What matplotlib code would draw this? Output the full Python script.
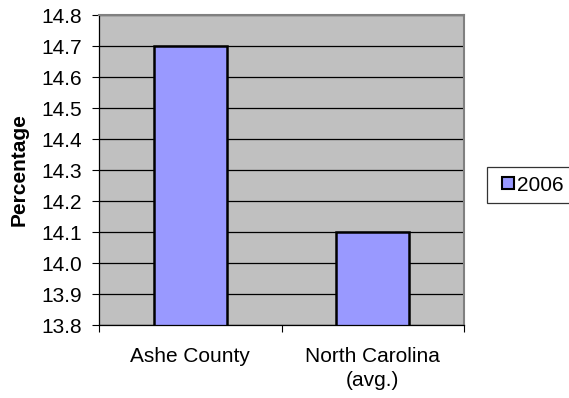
import matplotlib.pyplot as plt
import numpy as np
from matplotlib.patches import Rectangle
from matplotlib.container import BarContainer
from matplotlib.legend_handler import HandlerPatch

plt.rcParams['font.family'] = ['Liberation Sans', 'DejaVu Sans']

# data
categories = ['Ashe County', 'North Carolina\n(avg.)']
values_2006 = [14.7, 14.1]
series_name = '2006'
yticks = [13.8, 13.9, 14.0, 14.1, 14.2, 14.3, 14.4, 14.5, 14.6, 14.7, 14.8]

fs = 15


def square_handle(legend, orig_handle, xdescent, ydescent, width, height, fontsize):
    s = 0.56 * fontsize
    return Rectangle((-xdescent + width - s, -ydescent + (height - s) / 2), s, s)


def first_child(legend_handle, orig_handle):
    legend_handle.update_from(orig_handle[0])
    legend_handle.set_linewidth(1.5)


fig = plt.figure(figsize=(5.69, 3.98), dpi=100)
ax = fig.add_axes([0.1740, 0.1834, 0.6415, 0.7789])
ax.set_facecolor('#C0C0C0')

x = np.arange(len(categories))
ax.set_axisbelow(True)
ax.yaxis.grid(True, color='black', linewidth=0.9)
ax.bar(x, values_2006, width=0.4, bottom=0, color='#9999FF',
       edgecolor='black', linewidth=1.8, label=series_name)

ax.set_xlim(-0.5, len(categories) - 0.5)
ax.set_ylim(13.8, 14.8)
ax.set_yticks(yticks)
ax.set_yticklabels(['%.1f' % t for t in yticks], fontsize=fs)

# category labels between boundary ticks
ax.set_xticks(np.arange(len(categories) + 1) - 0.5)
ax.set_xticklabels([])
ax.set_xticks(x, minor=True)
ax.set_xticklabels(categories, minor=True, fontsize=fs, linespacing=1.3)
ax.tick_params(axis='x', which='minor', length=0, pad=16)
ax.tick_params(axis='x', which='major', length=5, direction='out')
ax.tick_params(axis='y', length=5, direction='out', pad=7)

for side in ['top', 'right']:
    ax.spines[side].set_color('#808080')
    ax.spines[side].set_linewidth(1.5)
for side in ['left', 'bottom']:
    ax.spines[side].set_color('black')
    ax.spines[side].set_linewidth(0.9)

ax.set_ylabel('Percentage', fontsize=fs, fontweight='bold', labelpad=9)

leg = fig.legend(loc='center left', bbox_to_anchor=(0.856, 0.535),
                 fontsize=fs, frameon=True, fancybox=False,
                 handlelength=0.9, handleheight=0.7, handletextpad=0.12,
                 borderpad=0.4, borderaxespad=0,
                 handler_map={BarContainer: HandlerPatch(patch_func=square_handle,
                                                         update_func=first_child)})
leg.get_frame().set_edgecolor('black')
leg.get_frame().set_linewidth(0.9)

fig.savefig('out.png', dpi=100)
